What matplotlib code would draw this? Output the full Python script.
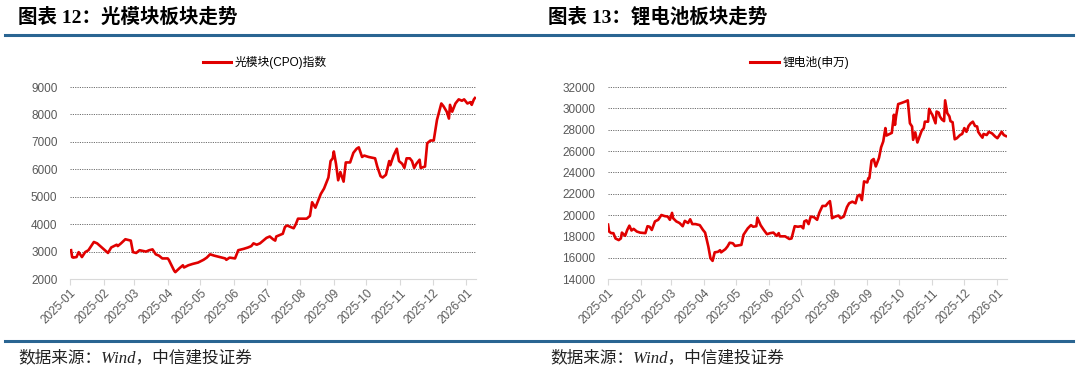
import pandas as pd
import matplotlib.pyplot as plt
import matplotlib.dates as mdates
from matplotlib.lines import Line2D

plt.rcParams["font.family"] = ["Liberation Sans", "Noto Sans CJK SC", "DejaVu Sans"]

# 光模块(CPO)指数
cpo_dates = [
    "2025-01-02", "2025-01-03", "2025-01-04", "2025-01-07", "2025-01-09", "2025-01-12",
    "2025-01-15", "2025-01-18", "2025-01-23", "2025-01-26", "2025-02-05", "2025-02-08",
    "2025-02-13", "2025-02-14", "2025-02-17", "2025-02-21", "2025-02-26", "2025-02-28",
    "2025-03-03", "2025-03-06", "2025-03-12", "2025-03-15", "2025-03-18", "2025-03-21",
    "2025-03-24", "2025-03-27", "2025-04-01", "2025-04-02", "2025-04-07", "2025-04-08",
    "2025-04-12", "2025-04-15", "2025-04-16", "2025-04-20", "2025-04-24", "2025-04-29",
    "2025-05-04", "2025-05-07", "2025-05-10", "2025-05-14", "2025-05-19", "2025-05-24",
    "2025-05-25", "2025-05-28", "2025-06-02", "2025-06-05", "2025-06-10", "2025-06-14",
    "2025-06-17", "2025-06-19", "2025-06-22", "2025-06-25", "2025-06-28", "2025-07-01",
    "2025-07-04", "2025-07-07", "2025-07-09", "2025-07-10", "2025-07-13", "2025-07-16",
    "2025-07-18", "2025-07-20", "2025-07-23", "2025-07-26", "2025-07-28", "2025-07-30",
    "2025-08-04", "2025-08-07", "2025-08-10", "2025-08-12", "2025-08-15", "2025-08-18",
    "2025-08-20", "2025-08-23", "2025-08-26", "2025-08-27", "2025-08-29", "2025-08-31",
    "2025-09-01", "2025-09-03", "2025-09-05", "2025-09-07", "2025-09-10", "2025-09-12",
    "2025-09-16", "2025-09-19", "2025-09-22", "2025-09-24", "2025-09-27", "2025-09-29",
    "2025-10-03", "2025-10-09", "2025-10-11", "2025-10-14", "2025-10-16", "2025-10-19",
    "2025-10-22", "2025-10-23", "2025-10-26", "2025-10-29", "2025-10-31", "2025-11-03",
    "2025-11-05", "2025-11-07", "2025-11-10", "2025-11-12", "2025-11-14", "2025-11-16",
    "2025-11-19", "2025-11-20", "2025-11-24", "2025-11-26", "2025-11-29", "2025-12-02",
    "2025-12-05", "2025-12-09", "2025-12-11", "2025-12-14", "2025-12-16", "2025-12-17",
    "2025-12-19", "2025-12-22", "2025-12-25", "2025-12-28", "2025-12-30", "2026-01-02",
    "2026-01-05", "2026-01-06", "2026-01-08", "2026-01-09",
]
cpo_values = [
    3050, 2800, 2780, 2800, 2980, 2800,
    2980, 3050, 3350, 3300, 2950, 3150,
    3250, 3200, 3300, 3450, 3400, 2980,
    2950, 3050, 3000, 3050, 3080, 2900,
    2850, 2750, 2750, 2700, 2300, 2250,
    2400, 2500, 2420, 2500, 2550, 2600,
    2700, 2780, 2900, 2850, 2800, 2750,
    2700, 2780, 2750, 3050, 3100, 3150,
    3200, 3300, 3250, 3300, 3400, 3500,
    3550, 3450, 3400, 3550, 3600, 3650,
    3900, 3950, 3900, 3850, 4000, 4200,
    4200, 4200, 4300, 4800, 4600, 4900,
    5100, 5300, 5600, 5700, 6300, 6400,
    6650, 6200, 5600, 5900, 5550, 6250,
    6250, 6600, 6750, 6800, 6450, 6500,
    6450, 6400, 6100, 5750, 5700, 5800,
    6300, 6150, 6500, 6750, 6300, 6200,
    6050, 6400, 6400, 6300, 6050, 6200,
    6350, 6050, 6100, 6950, 7050, 7050,
    7800, 8400, 8300, 8100, 7850, 8350,
    8100, 8400, 8550, 8500, 8550, 8400,
    8450, 8350, 8550, 8600,
]

# 锂电池(申万)
li_dates = [
    "2025-01-01", "2025-01-02", "2025-01-04", "2025-01-06", "2025-01-08", "2025-01-11",
    "2025-01-13", "2025-01-14", "2025-01-17", "2025-01-19", "2025-01-21", "2025-01-23",
    "2025-01-25", "2025-01-28", "2025-01-31", "2025-02-05", "2025-02-07", "2025-02-09",
    "2025-02-11", "2025-02-14", "2025-02-17", "2025-02-20", "2025-02-23", "2025-02-26",
    "2025-02-28", "2025-03-02", "2025-03-03", "2025-03-06", "2025-03-09", "2025-03-12",
    "2025-03-14", "2025-03-17", "2025-03-19", "2025-03-21", "2025-03-24", "2025-03-28",
    "2025-03-31", "2025-04-02", "2025-04-05", "2025-04-07", "2025-04-09", "2025-04-11",
    "2025-04-14", "2025-04-16", "2025-04-17", "2025-04-21", "2025-04-23", "2025-04-25",
    "2025-04-28", "2025-04-30", "2025-05-03", "2025-05-06", "2025-05-08", "2025-05-12",
    "2025-05-15", "2025-05-17", "2025-05-20", "2025-05-21", "2025-05-24", "2025-05-27",
    "2025-05-30", "2025-06-02", "2025-06-05", "2025-06-08", "2025-06-10", "2025-06-11",
    "2025-06-16", "2025-06-20", "2025-06-22", "2025-06-25", "2025-06-28", "2025-07-01",
    "2025-07-03", "2025-07-04", "2025-07-06", "2025-07-08", "2025-07-10", "2025-07-13",
    "2025-07-16", "2025-07-18", "2025-07-21", "2025-07-24", "2025-07-26", "2025-07-28",
    "2025-07-29", "2025-07-30", "2025-08-02", "2025-08-05", "2025-08-07", "2025-08-10",
    "2025-08-13", "2025-08-15", "2025-08-18", "2025-08-21", "2025-08-23", "2025-08-25",
    "2025-08-27", "2025-08-29", "2025-09-01", "2025-09-02", "2025-09-03", "2025-09-05",
    "2025-09-07", "2025-09-09", "2025-09-12", "2025-09-14", "2025-09-16", "2025-09-18",
    "2025-09-19", "2025-09-22", "2025-09-24", "2025-09-26", "2025-09-27", "2025-09-28",
    "2025-09-30", "2025-10-03", "2025-10-07", "2025-10-09", "2025-10-11", "2025-10-13",
    "2025-10-14", "2025-10-16", "2025-10-18", "2025-10-20", "2025-10-22", "2025-10-24",
    "2025-10-25", "2025-10-28", "2025-10-29", "2025-10-31", "2025-11-01", "2025-11-04",
    "2025-11-05", "2025-11-07", "2025-11-08", "2025-11-10", "2025-11-12", "2025-11-13",
    "2025-11-15", "2025-11-17", "2025-11-18", "2025-11-20", "2025-11-22", "2025-11-24",
    "2025-11-27", "2025-11-29", "2025-12-01", "2025-12-03", "2025-12-05", "2025-12-07",
    "2025-12-09", "2025-12-11", "2025-12-13", "2025-12-14", "2025-12-16", "2025-12-18",
    "2025-12-19", "2025-12-22", "2025-12-24", "2025-12-27", "2025-12-30", "2026-01-01",
    "2026-01-03", "2026-01-05", "2026-01-07", "2026-01-09",
]
li_values = [
    19100, 18450, 18300, 18300, 17800, 17650,
    17800, 18350, 18050, 18600, 19000, 18550,
    18700, 18450, 18350, 18300, 18950, 18900,
    18600, 19400, 19550, 20000, 19900, 19850,
    19550, 20200, 19700, 19400, 19250, 18950,
    19450, 19250, 19600, 19150, 19150, 19050,
    18600, 18350, 17050, 15950, 15700, 16500,
    16550, 16700, 16500, 16800, 17050, 17400,
    17350, 17100, 17150, 17200, 18150, 18750,
    19050, 18900, 18950, 19750, 19050, 18600,
    18200, 18300, 18350, 18050, 18300, 18000,
    18000, 17750, 17800, 18950, 18900, 18950,
    18750, 19400, 19500, 19150, 19850, 19800,
    19550, 20200, 20850, 20850, 21100, 21300,
    20650, 19700, 19850, 19950, 19700, 19850,
    20750, 21100, 21250, 21100, 21800, 21900,
    21400, 23150, 23050, 23450, 23450, 25100,
    25250, 24550, 25350, 26350, 26900, 28150,
    27450, 27600, 27700, 29400, 28450, 29250,
    30400, 30500, 30650, 30750, 28600, 28300,
    27050, 27750, 26800, 27350, 27900, 28150,
    28750, 28750, 29950, 29550, 29400, 28600,
    29700, 29600, 29250, 28950, 28800, 30750,
    29550, 29250, 28800, 28700, 27100, 27200,
    27500, 27600, 28150, 27800, 28350, 28600,
    28750, 28350, 28300, 27800, 27500, 27250,
    27600, 27500, 27800, 27650, 27350, 27200,
    27500, 27800, 27500, 27400,
]

x_ticks = pd.date_range("2025-01-01", "2026-01-01", freq="MS")
x_start, x_end = pd.Timestamp("2025-01-01"), pd.Timestamp("2026-01-10")

red = "#E00000"
blue = "#2A6592"
grey_text = "#595959"

fig = plt.figure(figsize=(10.8, 3.73), dpi=100)


def draw_panel(rect, dates, values, label, ylim, ystep):
    ax = fig.add_axes(rect)
    ax.plot(pd.to_datetime(dates), values, color=red, lw=1.9, solid_joinstyle="round")
    ax.set_xlim(x_start, x_end)
    ax.set_ylim(*ylim)
    ax.set_yticks(range(ylim[0], ylim[1] + 1, ystep))
    ax.set_xticks(x_ticks)
    ax.xaxis.set_major_formatter(mdates.DateFormatter("%Y-%m"))
    for s in ["top", "right", "left"]:
        ax.spines[s].set_visible(False)
    ax.spines["bottom"].set_color("#D9D9D9")
    ax.grid(axis="y", color="#6E6E6E", lw=0.7, linestyle=(0, (1.2, 1.2)))
    ax.set_axisbelow(True)
    ax.tick_params(axis="y", length=0, pad=9, labelsize=8.5, labelcolor=grey_text)
    ax.tick_params(axis="x", length=4, color="#D9D9D9", labelsize=8.5,
                   labelcolor=grey_text, pad=2)
    for t in ax.get_xticklabels():
        t.set_rotation(45)
        t.set_ha("right")
        t.set_rotation_mode("anchor")
    handle = Line2D([], [], color=red, lw=2.2)
    ax.legend([handle], [label], loc="lower center", bbox_to_anchor=(0.48, 1.04),
              frameon=False, handlelength=2.4, handletextpad=0.3,
              prop={"family": ["Liberation Sans", "Noto Sans CJK SC"], "size": 8.5})
    return ax


draw_panel([0.0648, 0.252, 0.376, 0.5147], cpo_dates, cpo_values,
           "光模块(CPO)指数", (2000, 9000), 1000)
draw_panel([0.563, 0.252, 0.3694, 0.5147], li_dates, li_values,
           "锂电池(申万)", (14000, 32000), 2000)

# titles, rules and sources
title_font = ["Liberation Serif", "Noto Sans CJK SC"]
fig.text(18 / 1080, 1 - 17 / 373, "图表 12：光模块板块走势", fontsize=14,
         fontweight="bold", family=title_font, va="center", ha="left")
fig.text(548 / 1080, 1 - 17 / 373, "图表 13：锂电池板块走势", fontsize=14,
         fontweight="bold", family=title_font, va="center", ha="left")
for y in [35, 341]:
    fig.add_artist(Line2D([5 / 1080, 1073 / 1080], [1 - y / 373, 1 - y / 373],
                          color=blue, lw=2.2))
fig.text(18 / 1080, 1 - 358 / 373, "数据来源：Wind，中信建投证券", fontsize=12,
         style="italic", family=title_font, va="center", ha="left", color="#222222")
fig.text(550 / 1080, 1 - 358 / 373, "数据来源：Wind，中信建投证券", fontsize=12,
         style="italic", family=title_font, va="center", ha="left", color="#222222")

fig.savefig("out.png", dpi=100)
